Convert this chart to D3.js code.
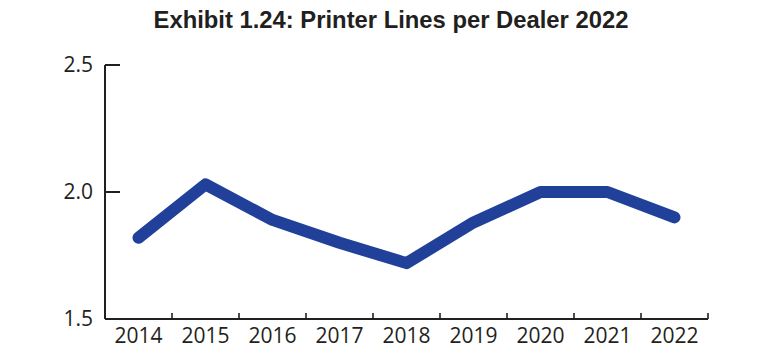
<!DOCTYPE html>
<html>
<head>
<meta charset="utf-8">
<script src="https://cdn.jsdelivr.net/npm/d3@7"></script>
<style>
  body{margin:0;background:#fff;}
  svg{display:block;}
</style>
</head>
<body>
<div id="chart"></div>
<script>
var years  = ['2014','2015','2016','2017','2018','2019','2020','2021','2022'];
var values = [1.82, 2.03, 1.89, 1.80, 1.72, 1.88, 2.00, 2.00, 1.90];
var yticks = [1.5, 2.0, 2.5];
var title  = 'Exhibit 1.24: Printer Lines per Dealer 2022';

var W = 780, H = 360;
var m = {left:105, right:72, top:65, bottom:41};
var ink = '#231f20';

var svg = d3.select('#chart').append('svg').attr('width',W).attr('height',H);

svg.append('text')
  .attr('x',391).attr('y',28)
  .attr('text-anchor','middle')
  .style('font-family','"Liberation Sans",Arial,sans-serif')
  .style('font-weight','bold').style('font-size','23.8px')
  .attr('fill',ink)
  .text(title);

var x = d3.scaleBand().domain(years).range([m.left,W-m.right]);
var y = d3.scaleLinear().domain([1.5,2.5]).range([H-m.bottom,m.top]);

// x axis: ticks on band edges, pointing up
var xg = svg.append('g').attr('transform','translate(0,'+(H-m.bottom)+')');
xg.append('line').attr('x1',m.left).attr('x2',W-m.right)
  .attr('stroke',ink).attr('stroke-width',2);
xg.selectAll('.tk').data(years).enter()
  .append('line')
  .attr('x1',function(d){return x(d)+x.bandwidth();})
  .attr('x2',function(d){return x(d)+x.bandwidth();})
  .attr('y1',0).attr('y2',-6)
  .attr('stroke',ink).attr('stroke-width',1.6);
xg.selectAll('.lb').data(years).enter()
  .append('text')
  .attr('x',function(d){return x(d)+x.bandwidth()/2;})
  .attr('y',24)
  .attr('text-anchor','middle')
  .style('font-family','"Open Sans",sans-serif').style('font-size','21px')
  .attr('fill',ink)
  .text(function(d){return d;});

// y axis: ticks pointing right
var yg = svg.append('g').attr('transform','translate('+m.left+',0)');
yg.append('line').attr('y1',y(1.5)).attr('y2',y(2.5))
  .attr('stroke',ink).attr('stroke-width',2);
yg.selectAll('.tk').data(yticks).enter()
  .append('line')
  .attr('x1',0).attr('x2',15)
  .attr('y1',function(d){return y(d);}).attr('y2',function(d){return y(d);})
  .attr('stroke',ink).attr('stroke-width',2);
yg.selectAll('.lb').data(yticks).enter()
  .append('text')
  .attr('x',-12)
  .attr('y',function(d){return y(d);})
  .attr('dy','0.35em')
  .attr('text-anchor','end')
  .style('font-family','"Open Sans",sans-serif').style('font-size','21px')
  .attr('fill',ink)
  .text(function(d){return d3.format('.1f')(d);});

var line = d3.line()
  .x(function(d,i){return x(years[i])+x.bandwidth()/2;})
  .y(function(d){return y(d);});

svg.append('path').datum(values)
  .attr('d',line)
  .attr('fill','none')
  .attr('stroke','#21409a')
  .attr('stroke-width',12)
  .attr('stroke-linecap','round')
  .attr('stroke-linejoin','round');
</script>
</body>
</html>
